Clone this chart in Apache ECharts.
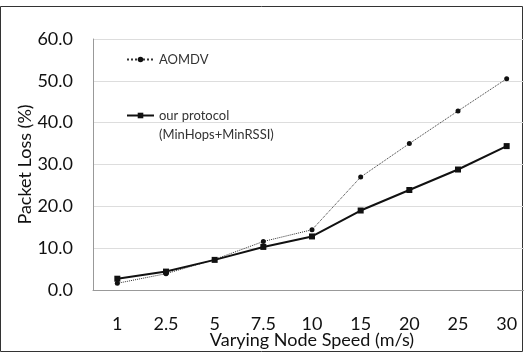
<!DOCTYPE html>
<html><head><meta charset="utf-8">
<script src="https://cdn.jsdelivr.net/npm/echarts@6/dist/echarts.min.js"></script>
<style>html,body{margin:0;padding:0;background:#fff}#c{width:524px;height:353px}</style>
</head><body><div id="c"></div>
<script>
const categories = ['1','2.5','5','7.5','10','15','20','25','30'];
const aomdv = [1.6, 3.9, 7.3, 11.6, 14.4, 27.0, 35.0, 42.8, 50.5];
const ourProtocol = [2.7, 4.4, 7.2, 10.3, 12.8, 19.0, 23.9, 28.8, 34.4];
const seriesNames = ['AOMDV', 'our protocol\n(MinHops+MinRSSI)'];
const yTicks = {min: 0, max: 60, interval: 10};

const chart = echarts.init(document.getElementById('c'));
const font = 'Lato, "Open Sans", sans-serif';
const legendText = {fontFamily: font, fontSize: 13, color: '#333', lineHeight: 19};
const richLine = {fontFamily: font, fontSize: 13, color: '#333', lineHeight: 19};
chart.setOption({
  animation: false,
  backgroundColor: '#fff',
  textStyle: {fontFamily: font},
  graphic: [{type: 'rect', shape: {x: 0.5, y: 6.5, width: 522, height: 345}, style: {fill: 'none', stroke: '#333', lineWidth: 1}}],
  grid: {left: 93, top: 39, width: 438, height: 251, outerBoundsMode: 'none', containLabel: false},
  legend: [
    {left: 126, top: 50, itemWidth: 27, itemHeight: 7, itemGap: 5, padding: 0,
     data: [seriesNames[0]], textStyle: legendText},
    {left: 126, top: 87, itemWidth: 27, itemHeight: 7, itemGap: 5, padding: 0,
     data: [seriesNames[1]],
     formatter: name => '{s| }\n' + name.split('\n').map(s => '{a|' + s + '}').join('\n'),
     textStyle: Object.assign({}, legendText, {rich: {s: richLine, a: richLine}})}
  ],
  xAxis: {
    type: 'category', data: categories, boundaryGap: true,
    axisLine: {lineStyle: {color: '#999'}}, axisTick: {show: false},
    axisLabel: {fontSize: 18, color: '#111', margin: 25, fontFamily: font},
    name: 'Varying Node Speed (m/s)', nameLocation: 'middle', nameGap: 41, nameMoveOverlap: false,
    nameTextStyle: {fontSize: 18, color: '#111', fontFamily: font}
  },
  yAxis: {
    type: 'value', min: yTicks.min, max: yTicks.max, interval: yTicks.interval,
    axisLine: {show: true, lineStyle: {color: '#999'}}, axisTick: {show: false},
    splitLine: {lineStyle: {color: '#ddd'}},
    axisLabel: {fontSize: 18, color: '#111', margin: 20, fontFamily: font, formatter: v => v.toFixed(1)},
    name: 'Packet Loss (%)', nameLocation: 'middle', nameGap: 59, nameMoveOverlap: false,
    nameTextStyle: {fontSize: 18, color: '#111', fontFamily: font}
  },
  series: [
    {name: seriesNames[0], type: 'line', data: aomdv, symbol: 'circle', symbolSize: 5,
     lineStyle: {type: 'dotted', width: 1, color: '#333'}, itemStyle: {color: '#111'}},
    {name: seriesNames[1], type: 'line', data: ourProtocol, symbol: 'rect', symbolSize: 6,
     lineStyle: {width: 2, color: '#111'}, itemStyle: {color: '#111'}}
  ]
});
</script></body></html>
